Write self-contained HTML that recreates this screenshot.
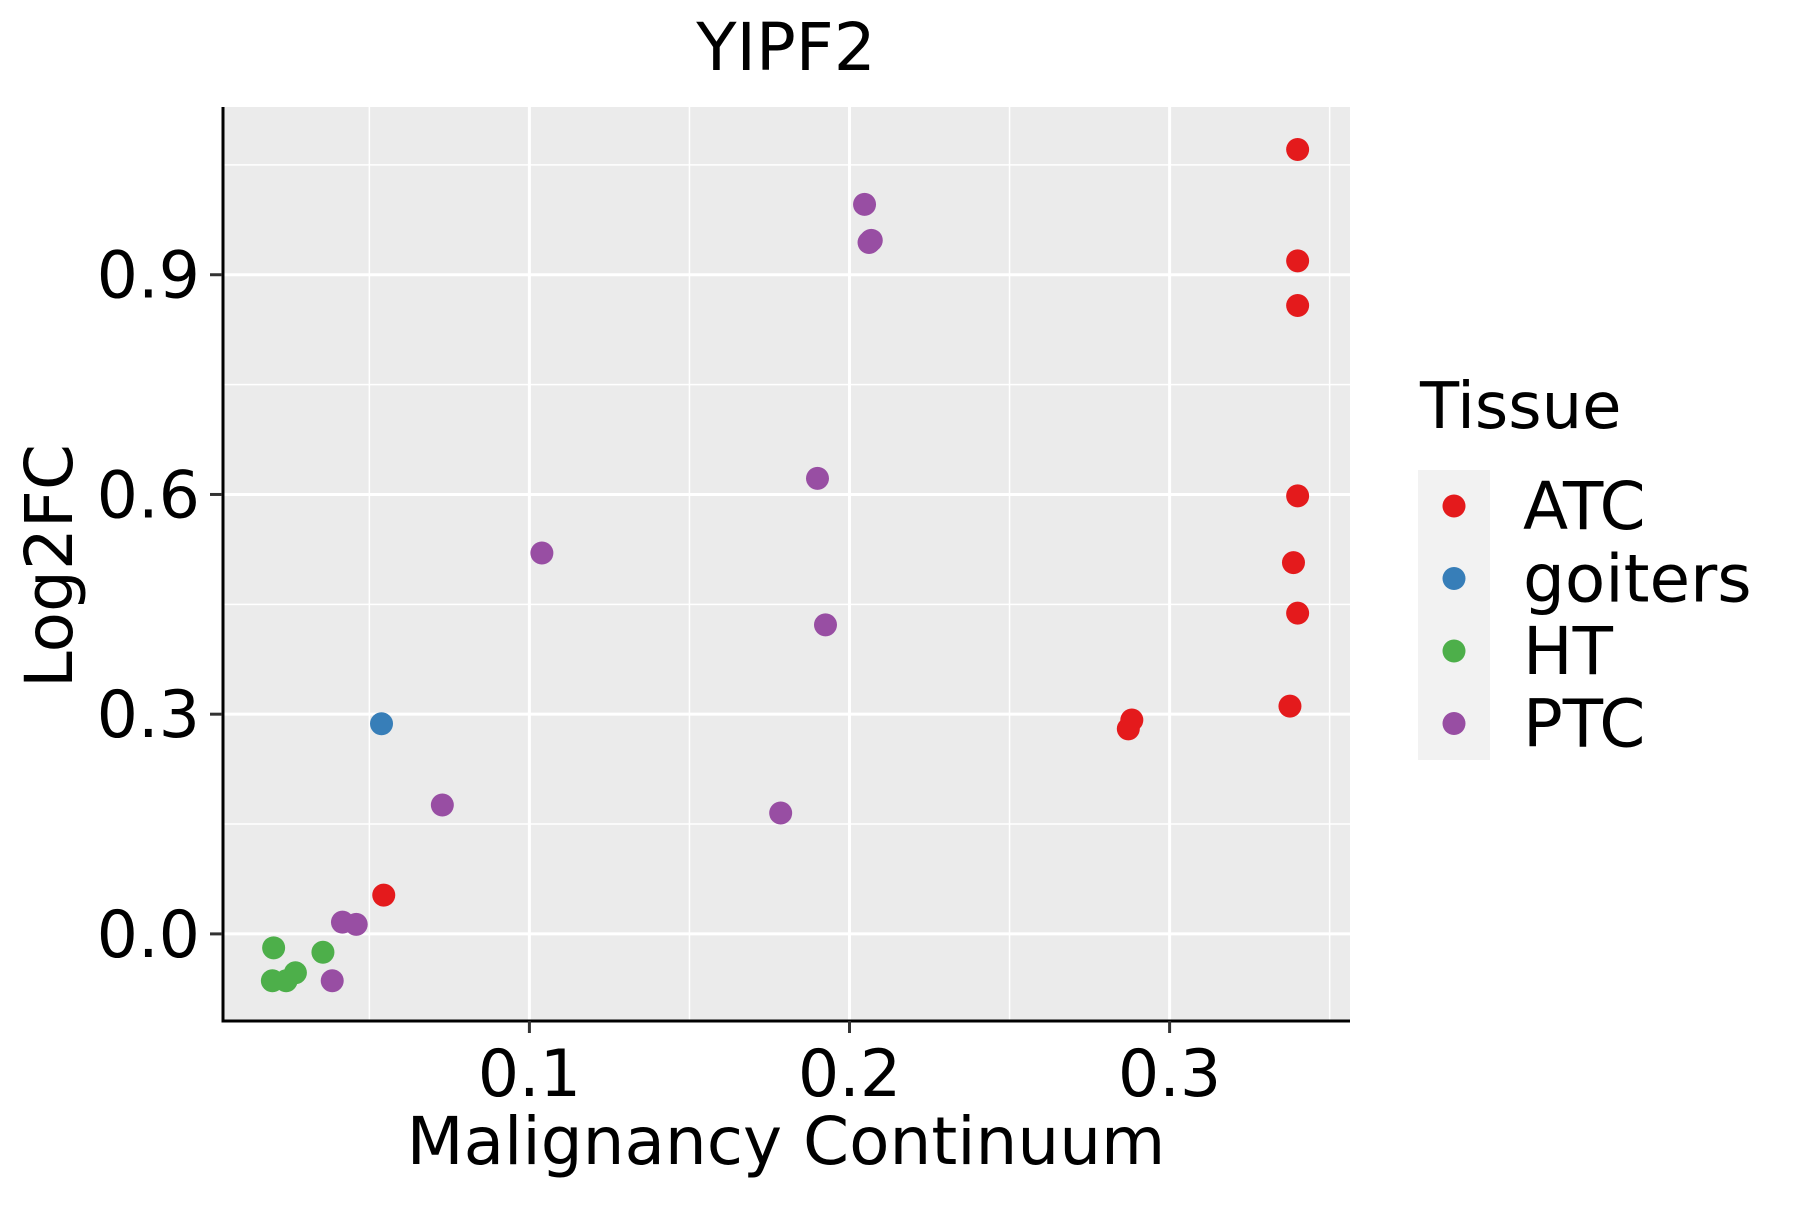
<!DOCTYPE html>
<html><head><meta charset="utf-8"><style>
body{margin:0;background:#fff}
svg text{font-family:"DejaVu Sans","Liberation Sans",sans-serif;fill:#000}
</style></head><body>
<svg id="chart" width="1800" height="1200" viewBox="0 0 1800 1200" xmlns="http://www.w3.org/2000/svg">
<rect x="222" y="107" width="1128" height="914" fill="#ebebeb"/>
<g id="grid"></g>
<g id="points"></g>
<line x1="223" y1="107" x2="223" y2="1022" stroke="#000" stroke-width="3"/>
<line x1="221.5" y1="1021" x2="1350" y2="1021" stroke="#000" stroke-width="3"/>
<g id="ticks"></g>
<text x="786" y="70" font-size="66" text-anchor="middle">YIPF2</text>
<text x="786" y="1164" font-size="66" text-anchor="middle">Malignancy Continuum</text>
<text x="0" y="0" font-size="66" text-anchor="middle" transform="translate(72,566) rotate(-90)">Log2FC</text>
<g>
<text x="1420" y="428" font-size="64">Tissue</text>
<rect x="1418" y="470" width="72" height="290" fill="#f2f2f2"/>
<g id="legend-items"></g>
</g>
</svg>
<script>
const tissues = ["ATC","goiters","HT","PTC"];
const colors = ["#e41a1c","#377eb8","#4daf4a","#984ea3"];
const xTicks = [0.1,0.2,0.3];
const xTickLabels = ["0.1","0.2","0.3"];
const yTicks = [0,0.3,0.6,0.9];
const yTickLabels = ["0.0","0.3","0.6","0.9"];
const atcX = [0.340,0.340,0.340,0.340,0.3387,0.340,0.3376,0.2882,0.2871,0.0545];
const atcY = [1.071,0.919,0.858,0.598,0.507,0.438,0.311,0.292,0.280,0.053];
const goitersX = [0.0538];
const goitersY = [0.287];
const htX = [0.0201,0.0197,0.0240,0.0269,0.0355];
const htY = [-0.019,-0.064,-0.064,-0.053,-0.025];
const ptcX = [0.2047,0.2061,0.2068,0.19,0.1925,0.1039,0.0728,0.1785,0.0416,0.0459,0.0384];
const ptcY = [0.996,0.944,0.947,0.622,0.422,0.520,0.176,0.165,0.016,0.013,-0.064];

const NS="http://www.w3.org/2000/svg";
function xs(v){return 209.3+3201*v;}
function ys(v){return 933.9-732.4*v;}
function mk(tag,attrs,parent){const e=document.createElementNS(NS,tag);for(const k in attrs)e.setAttribute(k,attrs[k]);parent.appendChild(e);return e;}
const grid=document.getElementById('grid');
[0.05,0.15,0.25,0.35].forEach(v=>{const l=mk('line',{x1:xs(v),x2:xs(v),y1:107,y2:1021,stroke:'#fff','stroke-width':1.5},grid);

});
[-0.15,0.15,0.45,0.75,1.05].forEach(v=>{const l=mk('line',{x1:222,x2:1350,y1:ys(v),y2:ys(v),stroke:'#fff','stroke-width':1.5},grid);

});
xTicks.forEach(v=>{const l=mk('line',{x1:xs(v),x2:xs(v),y1:107,y2:1021,stroke:'#fff','stroke-width':3},grid);

});
yTicks.forEach(v=>{const l=mk('line',{x1:222,x2:1350,y1:ys(v),y2:ys(v),stroke:'#fff','stroke-width':3},grid);

});
const ticks=document.getElementById('ticks');
xTicks.forEach((v,i)=>{const l=mk('line',{x1:xs(v),x2:xs(v),y1:1021,y2:1033,stroke:'#333','stroke-width':3},ticks);


const t=mk('text',{x:xs(v),y:1096,'font-size':65,'text-anchor':'middle'},ticks);t.textContent=xTickLabels[i];

});
yTicks.forEach((v,i)=>{const l=mk('line',{x1:210,x2:222,y1:ys(v),y2:ys(v),stroke:'#333','stroke-width':3},ticks);


const t=mk('text',{x:200,y:ys(v)+23,'font-size':65,'text-anchor':'end'},ticks);t.textContent=yTickLabels[i];

});
const pts=document.getElementById('points');
const series=[[atcX,atcY],[goitersX,goitersY],[htX,htY],[ptcX,ptcY]];
series.forEach((s,si)=>{s[0].forEach((x,i)=>{const c=mk('circle',{cx:xs(x),cy:ys(s[1][i]),r:11.5,fill:colors[si]},pts);

});});
const li=document.getElementById('legend-items');
tissues.forEach((t,i)=>{const y=506+72.5*i;
const c=mk('circle',{cx:1454,cy:y,r:11.5,fill:colors[i]},li);


const tx=mk('text',{x:1523,y:y+23,'font-size':66},li);tx.textContent=t;

});
</script>
</body></html>
